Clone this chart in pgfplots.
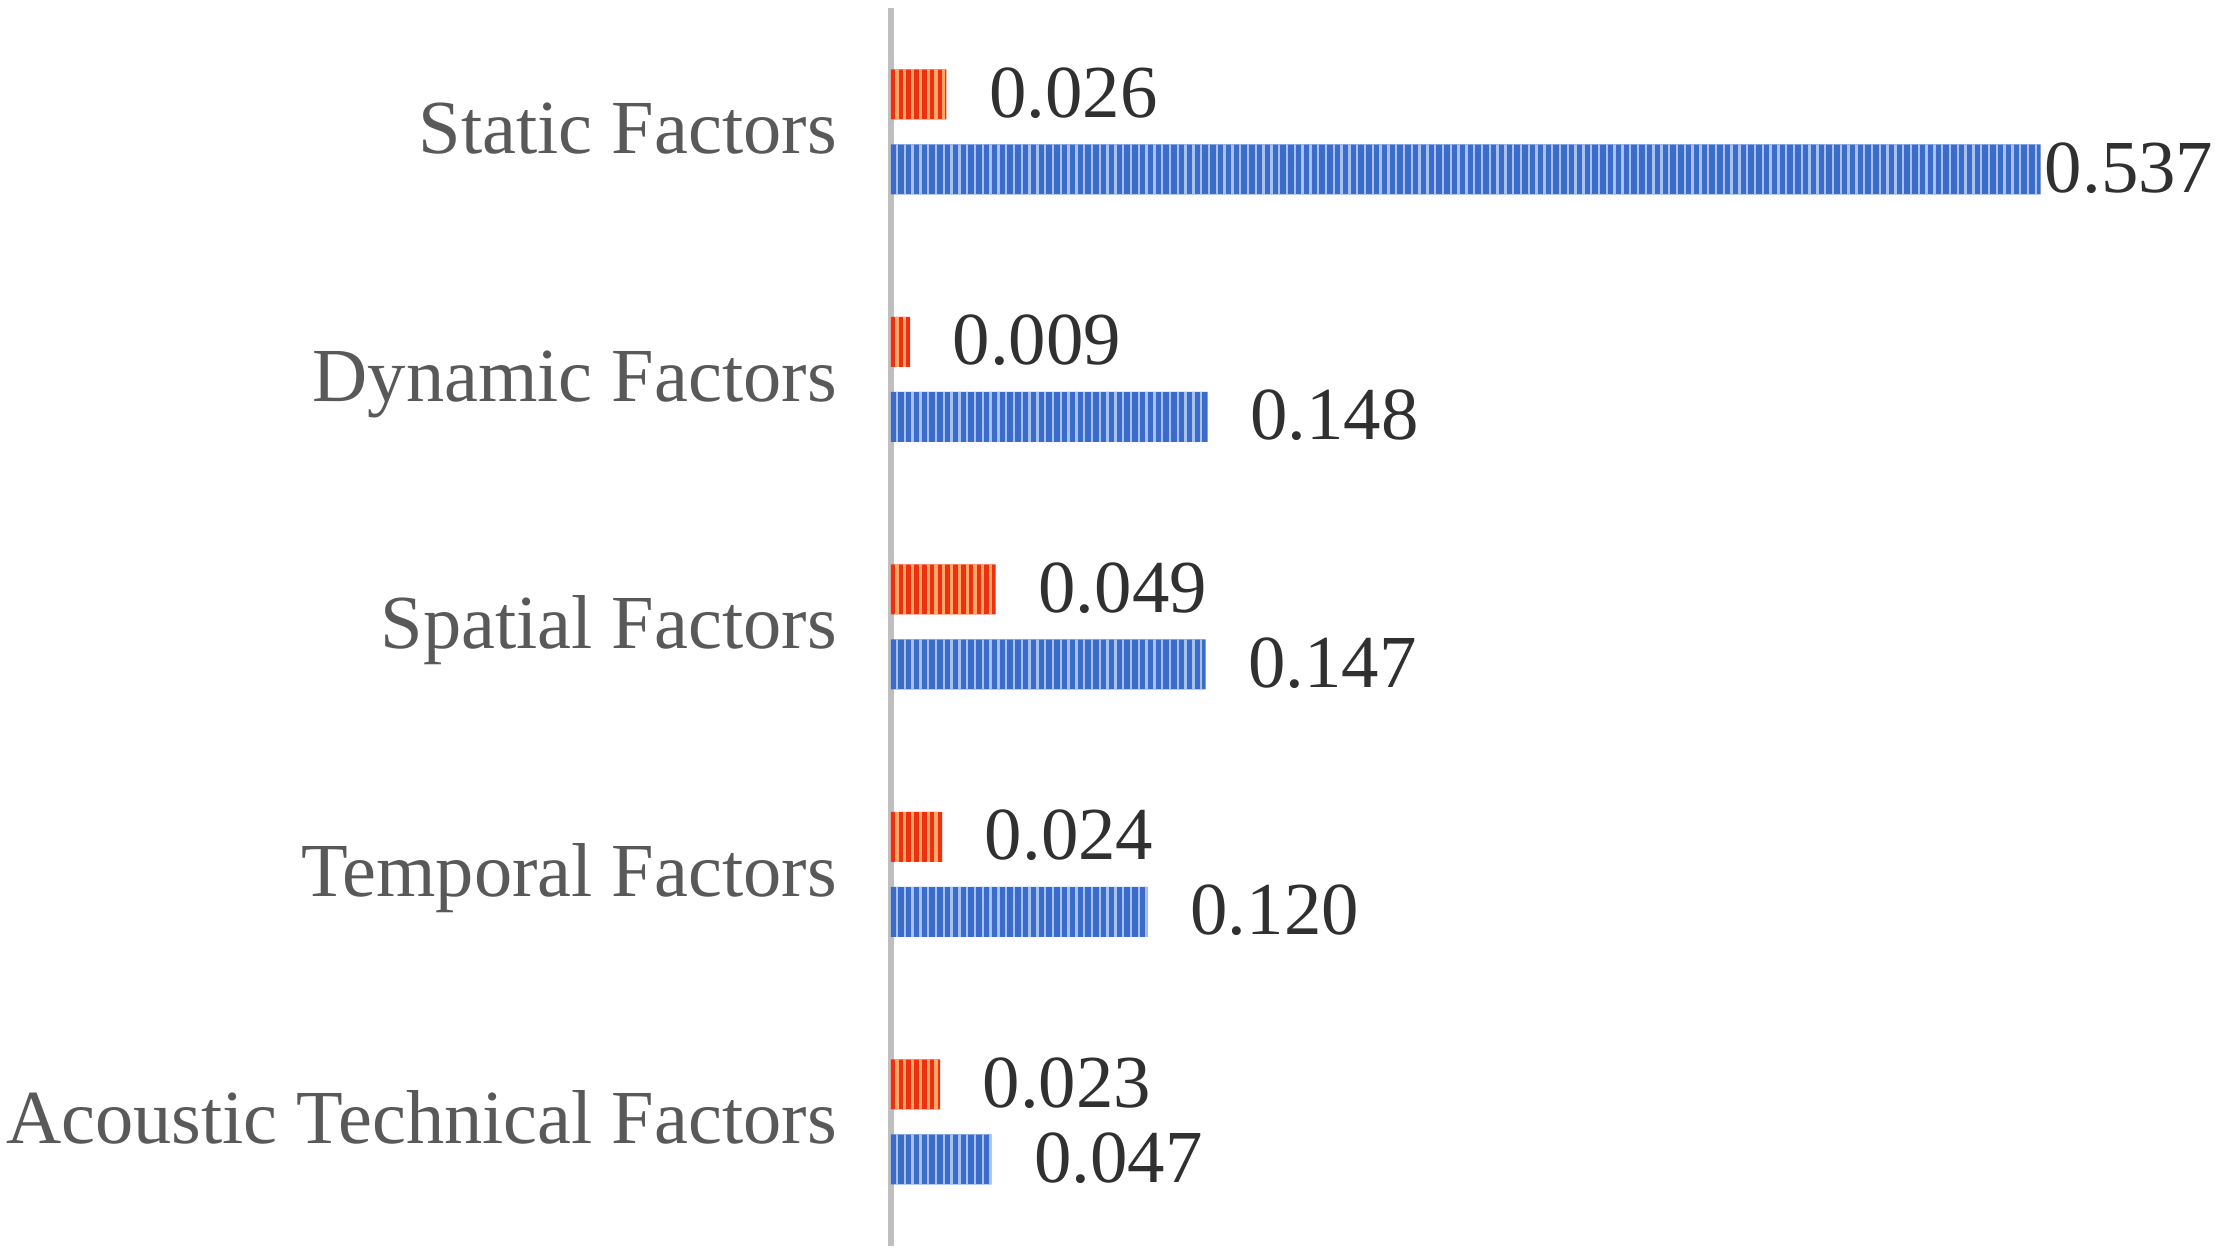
\documentclass[border=0pt]{standalone}
\usepackage{fontspec}
\setmainfont{Liberation Serif}
\usepackage{pgfplots}
\pgfplotsset{compat=1.18}
\usetikzlibrary{patterns.meta}
\definecolor{bluedark}{HTML}{3C6CCB}
\definecolor{bluelight}{HTML}{A8C2EE}
\definecolor{orgdark}{HTML}{EE3010}
\definecolor{orglight}{HTML}{FFA868}
\definecolor{labgray}{HTML}{595959}
\definecolor{numgray}{HTML}{303030}
\definecolor{axgray}{HTML}{BFBFBF}
\begin{document}
\begin{tikzpicture}
\useasboundingbox (0,0) rectangle (554.25pt,313.5pt);
\begin{axis}[
 at={(222.7pt,2.1pt)}, anchor=south west,
 x=535.25pt, y=61.875pt,
 xmin=0, xmax=0.6, ymin=-0.5, ymax=4.5,
 xbar, bar width=12.5pt,
 axis x line=none, axis y line*=left,
 y axis line style={draw=axgray, line width=1.5pt},
 ytick={0,1,2,3,4},
 yticklabels={Acoustic Technical Factors, Temporal Factors, Spatial Factors, Dynamic Factors, Static Factors},
 major tick length=0pt,
 ytick style={draw=none},
 yticklabel style={font=\fontsize{19.1pt}{22pt}\selectfont, text=labgray, anchor=east, inner sep=0pt, xshift=-13.3pt, yshift=-2.1pt, text height=0.9em, text depth=0.22em},
 clip=false,
 /pgf/number format/assume math mode=true,
 point meta=x,
 nodes near coords={\pgfmathprintnumber[fixed,fixed zerofill,precision=3]{\pgfplotspointmeta}},
 every node near coord/.append style={anchor=west, inner sep=0pt, xshift=10.5pt, yshift=0.4pt, font=\fontsize{18.7pt}{22pt}\selectfont, text=numgray},
 coordinate style/.condition={x>0.5}{xshift=-9.6pt},
]
\addplot[draw=none, fill=orgdark, bar shift=9.375pt,
  postaction={pattern color=orglight, pattern={Lines[angle=90,distance=1.95pt,line width=0.8pt]}}]
  coordinates {(0.023,0) (0.024,1) (0.049,2) (0.009,3) (0.026,4)};
\addplot[draw=none, fill=bluedark, bar shift=-9.375pt,
  postaction={pattern color=bluelight, pattern={Lines[angle=90,distance=1.95pt,line width=0.6pt]}}]
  coordinates {(0.047,0) (0.120,1) (0.147,2) (0.148,3) (0.537,4)};
\end{axis}
\end{tikzpicture}
\end{document}
